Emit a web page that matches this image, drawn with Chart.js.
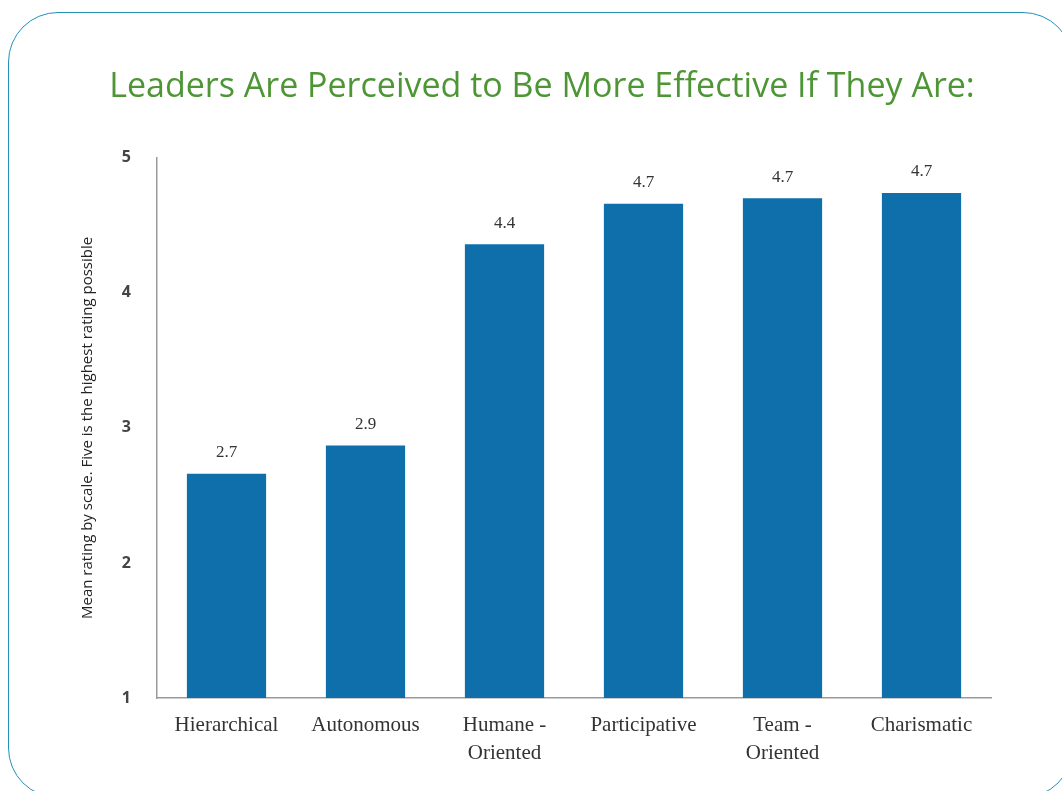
<!DOCTYPE html>
<html lang="en">
<head>
    <meta charset="UTF-8">
    <title>Leaders Are Perceived to Be More Effective If They Are</title>
    <script src="https://cdn.jsdelivr.net/npm/chart.js"></script>
    <style>
        body {
            margin: 0;
            padding: 0;
            background: white;
            overflow: hidden;
        }
        .frame {
            position: absolute;
            left: 8px;
            top: 12px;
            width: 1065px;
            height: 786px;
            border: 1.5px solid #2391b8;
            border-radius: 50px;
            box-sizing: border-box;
        }
        .wrap {
            position: absolute;
            left: 0;
            top: 0;
            width: 1062px;
            height: 791px;
        }
    </style>
</head>
<body>

<div class="frame"></div>
<div class="wrap"><canvas id="leaderChart"></canvas></div>

<script>
    const categories = [
        'Hierarchical',
        'Autonomous',
        ['Humane -', 'Oriented'],
        'Participative',
        ['Team -', 'Oriented'],
        'Charismatic'
    ];
    const meanRatings = [2.66, 2.87, 4.36, 4.66, 4.70, 4.74];
    const yTicks = [1, 2, 3, 4, 5];

    // value labels above each bar
    const barValueLabels = {
        id: 'barValueLabels',
        afterDatasetsDraw(chart) {
            const ctx = chart.ctx;
            const meta = chart.getDatasetMeta(0);
            ctx.save();
            ctx.font = '17px "Liberation Serif", serif';
            ctx.fillStyle = '#333';
            ctx.textAlign = 'center';
            ctx.textBaseline = 'middle';
            meta.data.forEach((bar, i) => {
                ctx.fillText(meanRatings[i].toFixed(1), bar.x, bar.y - 21);
            });
            ctx.restore();
        }
    };

    document.addEventListener('DOMContentLoaded', function () {
        const ctx = document.getElementById('leaderChart').getContext('2d');

        new Chart(ctx, {
            type: 'bar',
            data: {
                labels: categories,
                datasets: [{
                    label: 'Mean rating',
                    data: meanRatings,
                    backgroundColor: '#0f6fab',
                    borderWidth: 0,
                    barPercentage: 0.57,
                    categoryPercentage: 1.0
                }]
            },
            options: {
                responsive: true,
                maintainAspectRatio: false,
                animation: false,
                layout: {
                    padding: { left: 79, right: 57, top: 0, bottom: 0 }
                },
                scales: {
                    x: {
                        grid: { display: false },
                        border: { display: true, color: '#9a9a9a', width: 1.5 },
                        ticks: {
                            color: '#333',
                            padding: 6,
                            maxRotation: 0,
                            autoSkip: false,
                            font: { family: '"Liberation Serif", serif', size: 21, lineHeight: 1.33 }
                        },
                        afterFit(scale) { scale.height = 93; }
                    },
                    y: {
                        min: 1,
                        max: 5,
                        afterBuildTicks(scale) {
                            scale.ticks = yTicks.map(v => ({ value: v }));
                        },
                        grid: { display: false },
                        border: { display: true, color: '#9a9a9a', width: 1.5 },
                        ticks: {
                            color: '#444',
                            padding: 18,
                            font: { family: '"Open Sans", sans-serif', size: 16, weight: 'bold' }
                        },
                        title: {
                            display: true,
                            text: 'Mean rating by scale. Five is the highest rating possible',
                            color: '#222',
                            padding: 0,
                            font: { family: '"Open Sans", sans-serif', size: 15 }
                        },
                        afterFit(scale) { scale.width = 78; }
                    },
                    y2: {
                        position: 'right',
                        display: true,
                        grid: { display: false },
                        border: { display: false },
                        ticks: { display: false },
                        afterFit(scale) { scale.width = 14; }
                    }
                },
                plugins: {
                    legend: { display: false },
                    tooltip: { enabled: false },
                    title: {
                        display: true,
                        text: 'Leaders Are Perceived to Be More Effective If They Are:',
                        color: '#4d9535',
                        padding: { top: 67, bottom: 50 },
                        font: { family: '"Open Sans", sans-serif', size: 34, weight: 'normal', lineHeight: 1.2 }
                    }
                }
            },
            plugins: [barValueLabels]
        });
    });
</script>

</body>
</html>
